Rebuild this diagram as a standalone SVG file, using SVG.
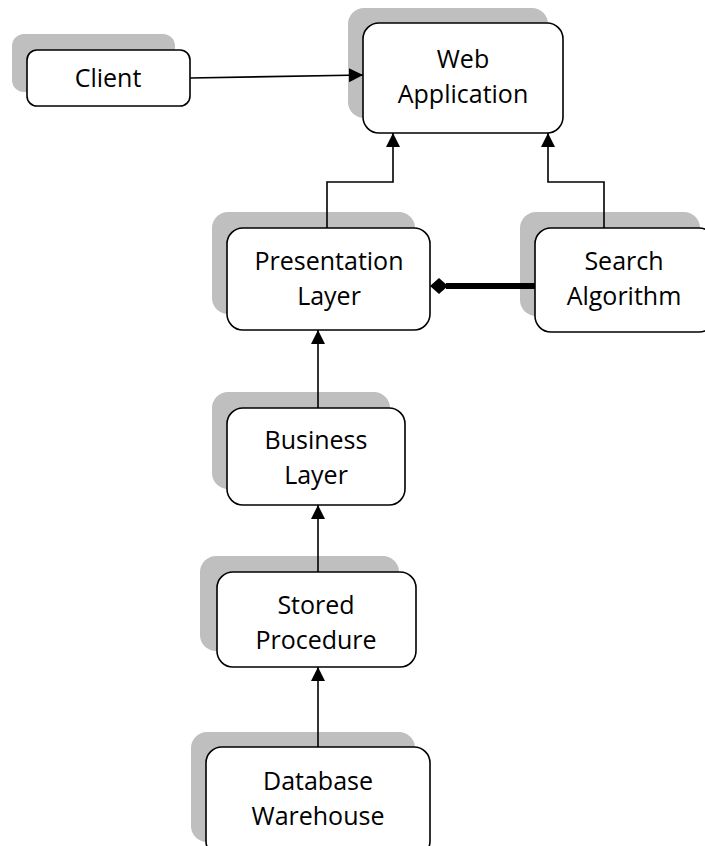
<svg xmlns="http://www.w3.org/2000/svg" width="705" height="846" viewBox="0 0 705 846">
<defs>
<style>
.sh{fill:#bfbfbf;stroke:none}
.bx{fill:#ffffff;stroke:#000;stroke-width:1.6}
.t{font-family:"Open Sans","Noto Sans",sans-serif;font-size:25px;fill:#000;text-anchor:middle}
.c{fill:none;stroke:#000;stroke-width:1.6}
</style>
<marker id="arr" viewBox="0 0 14 14" refX="14" refY="7" markerWidth="14" markerHeight="14" markerUnits="userSpaceOnUse" orient="auto">
<path d="M0,0 L14,7 L0,14 Z" fill="#000"/>
</marker>
</defs>
<rect width="705" height="846" fill="#fff"/>
<g id="client">
<rect class="sh" x="12" y="34" width="163" height="58" rx="12"/>
<rect class="bx" x="27" y="50" width="163" height="56" rx="10"/>
<text class="t" x="108" y="87">Client</text>
</g>
<g id="webapp">
<rect class="sh" x="348" y="8" width="200" height="110" rx="16"/>
<rect class="bx" x="363" y="23" width="200" height="110" rx="16"/>
<text class="t" x="463" y="68">Web</text>
<text class="t" x="463" y="103">Application</text>
</g>
<g id="presentation">
<rect class="sh" x="212" y="212" width="203" height="102" rx="16"/>
<rect class="bx" x="227" y="228" width="203" height="102" rx="16"/>
<text class="t" x="329" y="270">Presentation</text>
<text class="t" x="329" y="305">Layer</text>
</g>
<g id="search">
<rect class="sh" x="520" y="212" width="180" height="104" rx="16"/>
<rect class="bx" x="535" y="228" width="180" height="104" rx="16"/>
<text class="t" x="624" y="270">Search</text>
<text class="t" x="624" y="305">Algorithm</text>
</g>
<g id="business">
<rect class="sh" x="212" y="392" width="178" height="97" rx="16"/>
<rect class="bx" x="227" y="408" width="178" height="97" rx="16"/>
<text class="t" x="316" y="449">Business</text>
<text class="t" x="316" y="484">Layer</text>
</g>
<g id="stored">
<rect class="sh" x="200" y="556" width="199" height="95" rx="16"/>
<rect class="bx" x="217" y="572" width="199" height="95" rx="16"/>
<text class="t" x="316" y="614">Stored</text>
<text class="t" x="316" y="649">Procedure</text>
</g>
<g id="database">
<rect class="sh" x="191" y="732" width="224" height="110" rx="16"/>
<rect class="bx" x="206" y="747" width="224" height="110" rx="16"/>
<text class="t" x="318" y="790">Database</text>
<text class="t" x="318" y="825">Warehouse</text>
</g>
<g id="connectors">
<line class="c" x1="190" y1="78" x2="363" y2="75" marker-end="url(#arr)"/>
<polyline class="c" points="327,228 327,182 393,182 393,133" marker-end="url(#arr)"/>
<polyline class="c" points="604,228 604,182 548,182 548,133" marker-end="url(#arr)"/>
<line x1="535" y1="286" x2="446" y2="286" stroke="#000" stroke-width="6"/>
<path d="M430,286 L439,278 L448,286 L439,294 Z" fill="#000"/>
<line class="c" x1="318" y1="408" x2="318" y2="330" marker-end="url(#arr)"/>
<line class="c" x1="318" y1="572" x2="318" y2="505" marker-end="url(#arr)"/>
<line class="c" x1="318" y1="747" x2="318" y2="667" marker-end="url(#arr)"/>
</g>
</svg>
